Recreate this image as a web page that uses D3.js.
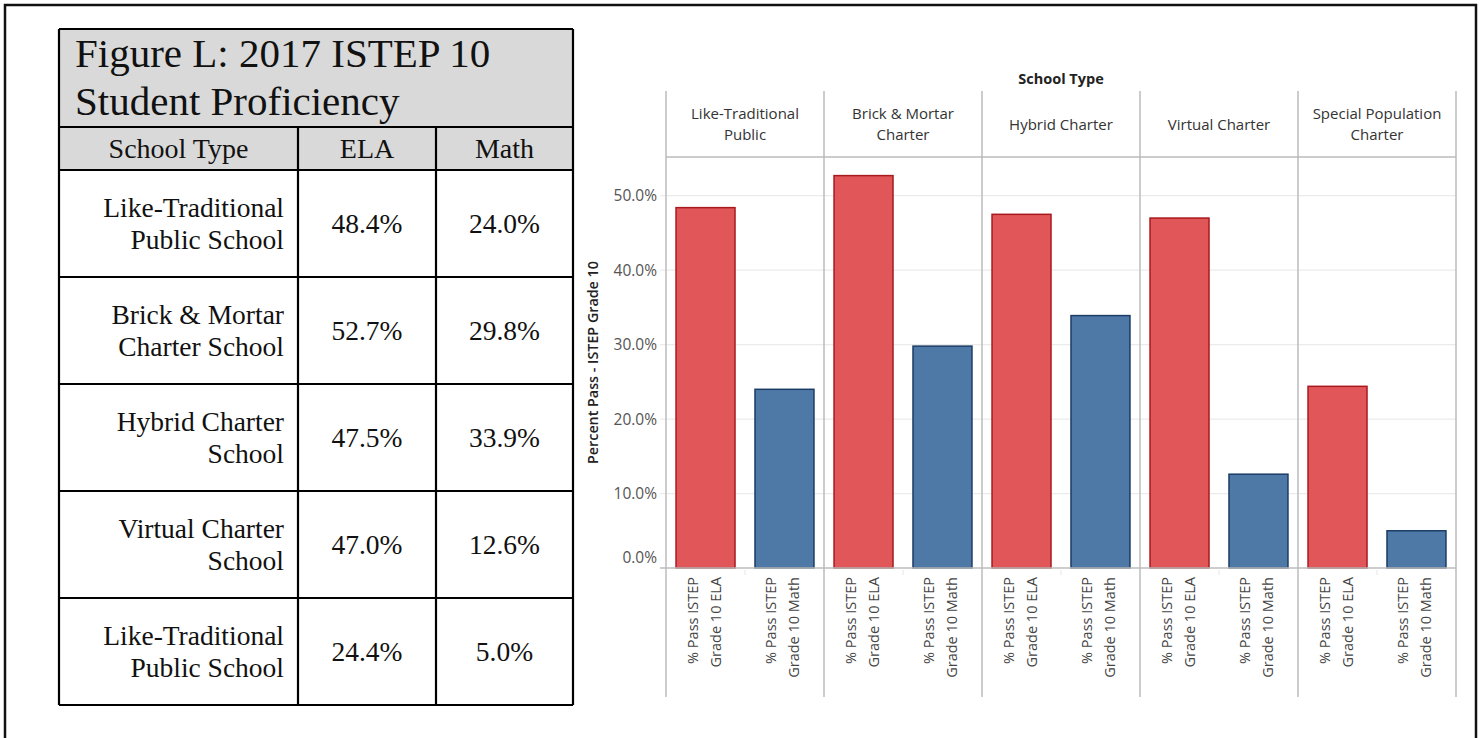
<!DOCTYPE html>
<html><head><meta charset="utf-8">
<script src="https://cdn.jsdelivr.net/npm/d3@7"></script>
<style>
html,body{margin:0;padding:0;background:#fff;}
svg{display:block;}
</style></head>
<body>
<svg id="chart" width="1481" height="738"></svg>
<script>
// ---- data ----
const categories = ["Like-Traditional Public", "Brick & Mortar Charter", "Hybrid Charter", "Virtual Charter", "Special Population Charter"];
const headerLines = [["Like-Traditional", "Public"], ["Brick & Mortar", "Charter"], ["Hybrid Charter"], ["Virtual Charter"], ["Special Population", "Charter"]];
const tableSchoolLabels = [["Like-Traditional", "Public School"], ["Brick & Mortar", "Charter School"], ["Hybrid Charter", "School"], ["Virtual Charter", "School"], ["Like-Traditional", "Public School"]];
const elaValues = [48.4, 52.7, 47.5, 47.0, 24.4];
const mathValues = [24.0, 29.8, 33.9, 12.6, 5.0];
const measures = ["ELA", "Math"];
const measureLabels = [["% Pass ISTEP", "Grade 10 ELA"], ["% Pass ISTEP", "Grade 10 Math"]];
const yTicks = [0, 10, 20, 30, 40, 50];
const tableTitle = ["Figure L: 2017 ISTEP 10", "Student Proficiency"];
const tableHeaders = ["School Type", "ELA", "Math"];

const svg = d3.select("#chart");

// outer frame
svg.append("rect").attr("x", 5).attr("y", 5).attr("width", 1471).attr("height", 760)
  .attr("fill", "none").attr("stroke", "#111").attr("stroke-width", 2.5);

// ---- table ----
const serif = "'Liberation Serif', 'DejaVu Serif', serif";
const tX = [59, 298, 436, 573];
const tTop = 29, titleBottom = 127, headBottom = 170, rowH = 107;
const tg = svg.append("g");
tg.append("rect").attr("x", tX[0]).attr("y", tTop).attr("width", tX[3] - tX[0]).attr("height", headBottom - tTop).attr("fill", "#d9d9d9");
tg.selectAll("text.title").data(tableTitle).join("text")
  .attr("x", 75).attr("y", (d, i) => 67 + i * 48)
  .attr("font-family", serif).attr("font-size", 41).attr("fill", "#111").text(d => d);
const colCenters = [(tX[0] + tX[1]) / 2, (tX[1] + tX[2]) / 2, (tX[2] + tX[3]) / 2];
tg.selectAll("text.head").data(tableHeaders).join("text")
  .attr("x", (d, i) => colCenters[i]).attr("y", 158).attr("text-anchor", "middle")
  .attr("font-family", serif).attr("font-size", 28).attr("fill", "#111").text(d => d);

const rows = categories.map((c, i) => ({ label: tableSchoolLabels[i], ela: elaValues[i], math: mathValues[i], i }));
const rowG = tg.selectAll("g.row").data(rows).join("g").attr("transform", d => `translate(0,${headBottom + d.i * rowH})`);
rowG.each(function (d) {
  const g = d3.select(this);
  g.selectAll("text.lab").data(d.label).join("text")
    .attr("x", 284).attr("y", (t, j) => 47 + j * 32).attr("text-anchor", "end")
    .attr("font-family", serif).attr("font-size", 27.5).attr("fill", "#111").text(t => t);
  g.append("text").attr("x", colCenters[1]).attr("y", 63).attr("text-anchor", "middle")
    .attr("font-family", serif).attr("font-size", 27.5).attr("fill", "#111").text(d.ela.toFixed(1) + "%");
  g.append("text").attr("x", colCenters[2]).attr("y", 63).attr("text-anchor", "middle")
    .attr("font-family", serif).attr("font-size", 27.5).attr("fill", "#111").text(d.math.toFixed(1) + "%");
});
// table lines
const tBottom = headBottom + rows.length * rowH;
const hLines = [tTop, titleBottom, headBottom].concat(rows.map((r, i) => headBottom + (i + 1) * rowH));
tg.selectAll("line.h").data(hLines).join("line")
  .attr("x1", tX[0]).attr("x2", tX[3]).attr("y1", d => d).attr("y2", d => d)
  .attr("stroke", "#000").attr("stroke-width", 2.2);
tg.selectAll("line.v").data(tX).join("line")
  .attr("x1", d => d).attr("x2", d => d)
  .attr("y1", (d, i) => (i === 0 || i === 3) ? tTop : titleBottom).attr("y2", tBottom)
  .attr("stroke", "#000").attr("stroke-width", 2.2);

// ---- chart ----
const sans = "'Open Sans', 'Noto Sans', sans-serif";
const plotL = 666, plotR = 1456, plotT = 157, plotB = 568, headTop = 91, labBottom = 697;
const xOuter = d3.scaleBand().domain(categories).range([plotL, plotR]).padding(0);
const xInner = d3.scaleBand().domain(measures).range([0, xOuter.bandwidth()]).paddingInner(0.253).paddingOuter(0.127);
const y = d3.scaleLinear().domain([0, 55.2]).range([plotB, plotT]);

const cg = svg.append("g");
// gridlines
cg.selectAll("line.grid").data(yTicks.filter(t => t > 0)).join("line")
  .attr("x1", 660).attr("x2", plotR).attr("y1", d => y(d)).attr("y2", d => y(d))
  .attr("stroke", "#ebebeb").attr("stroke-width", 1.2);

// y axis
const yAxis = d3.axisLeft(y).tickValues(yTicks).tickSize(0).tickPadding(0).tickFormat(d => d.toFixed(1) + "%");
const ya = cg.append("g").attr("transform", `translate(657,0)`).call(yAxis);
ya.select(".domain").remove();
ya.selectAll("text").attr("font-family", sans).attr("font-size", 15.5).attr("fill", "#555")
  .attr("dy", d => d === 0 ? "-0.35em" : "0.32em");

// bars
const series = [elaValues, mathValues];
const colors = { ELA: "#e15759", Math: "#4e79a7" };
const strokes = { ELA: "#a8191d", Math: "#1b3c66" };
const barData = [];
categories.forEach((c, i) => measures.forEach((m, k) => barData.push({ c, m, v: series[k][i] })));
cg.selectAll("rect.bar").data(barData).join("rect")
  .attr("x", d => xOuter(d.c) + xInner(d.m)).attr("width", xInner.bandwidth())
  .attr("y", d => y(d.v)).attr("height", d => y(0) - y(d.v))
  .attr("fill", d => colors[d.m]).attr("stroke", d => strokes[d.m]).attr("stroke-width", 1.5);

// zero line
cg.append("line").attr("x1", 660).attr("x2", plotR).attr("y1", y(0)).attr("y2", y(0))
  .attr("stroke", "#bdbdbd").attr("stroke-width", 1.5);
// small ticks between bars
cg.selectAll("line.mid").data(categories).join("line")
  .attr("x1", d => xOuter(d) + xOuter.bandwidth() / 2).attr("x2", d => xOuter(d) + xOuter.bandwidth() / 2)
  .attr("y1", y(0) + 2).attr("y2", y(0) + 7).attr("stroke", "#e6e6e6").attr("stroke-width", 1);

// panel separators
const bounds = categories.map(c => xOuter(c)).concat([plotR]);
cg.selectAll("line.panel").data(bounds).join("line")
  .attr("x1", d => d).attr("x2", d => d).attr("y1", headTop).attr("y2", labBottom)
  .attr("stroke", "#bbbbbb").attr("stroke-width", 1.5);
cg.append("line").attr("x1", plotL).attr("x2", plotR).attr("y1", plotT).attr("y2", plotT)
  .attr("stroke", "#bbbbbb").attr("stroke-width", 1.5);

// column header title
cg.append("text").attr("x", (plotL + plotR) / 2).attr("y", 84).attr("text-anchor", "middle")
  .attr("font-family", sans).attr("font-size", 14.5).attr("font-weight", 700).attr("fill", "#222").text("School Type");

// panel headers
categories.forEach((c, i) => {
  const lines = headerLines[i];
  const cx = xOuter(c) + xOuter.bandwidth() / 2;
  const y0 = lines.length === 1 ? 130 : 119;
  cg.selectAll(null).data(lines).join("text")
    .attr("x", cx).attr("y", (d, j) => y0 + j * 21).attr("text-anchor", "middle")
    .attr("font-family", sans).attr("font-size", 15).attr("fill", "#333").text(d => d);
});

// x labels (rotated)
barData.forEach(d => {
  const cx = xOuter(d.c) + xInner(d.m) + xInner.bandwidth() / 2;
  const lines = measureLabels[measures.indexOf(d.m)];
  lines.forEach((t, j) => {
    const bx = cx - 8 + j * 23;
    cg.append("text").attr("transform", `translate(${bx},577) rotate(-90)`)
      .attr("text-anchor", "end").attr("font-family", sans).attr("font-size", 14.5).attr("fill", "#444").text(t);
  });
});

// y axis title
cg.append("text").attr("transform", `translate(598,${(plotT + plotB) / 2}) rotate(-90)`)
  .attr("text-anchor", "middle").attr("font-family", sans).attr("font-size", 14.3).attr("font-weight", 600)
  .attr("fill", "#222").text("Percent Pass - ISTEP Grade 10");
</script>
</body></html>
